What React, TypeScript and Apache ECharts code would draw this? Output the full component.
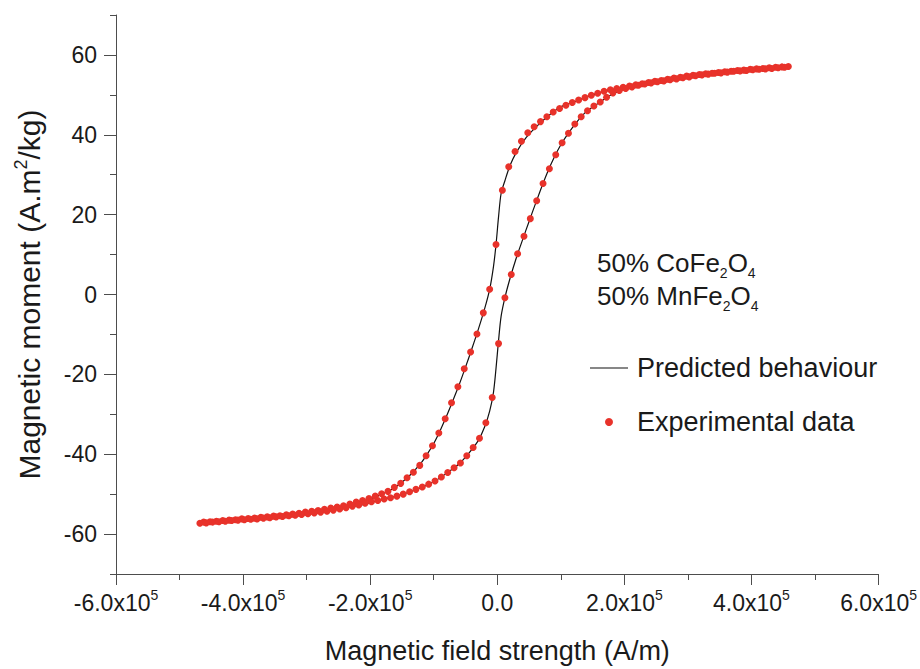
import React, { useEffect, useRef } from "react";
import * as echarts from "echarts";

// Experimental data, descending branch (field in kA/m, moment in A.m2/kg)
const descField = [458, 448, 438, 428, 418, 408, 398, 388, 378, 368, 358, 348, 338, 328, 318, 308, 298, 288, 278, 268, 258, 248, 238, 228, 218, 208, 198, 188, 178, 168, 158, 148, 138, 128, 118, 108, 98, 88, 78, 68, 58, 48, 38, 28, 18, 8, -2, -12, -22, -32, -42, -52, -62, -72, -82, -92, -102, -112, -122, -132, -142, -152, -162, -172, -182, -192, -202, -212, -222, -232, -242, -252, -262, -272, -282, -292, -302, -312, -322, -332, -342, -352, -362, -372, -382, -392, -402, -412, -422, -432, -442, -452, -462];
const descMoment = [57.1, 57.0, 56.9, 56.8, 56.6, 56.5, 56.4, 56.2, 56.1, 55.9, 55.8, 55.6, 55.4, 55.3, 55.1, 54.9, 54.7, 54.4, 54.2, 53.9, 53.6, 53.4, 53.1, 52.8, 52.5, 52.2, 51.9, 51.6, 51.3, 50.9, 50.4, 49.9, 49.3, 48.7, 48.1, 47.4, 46.6, 45.7, 44.5, 43.3, 42.0, 40.5, 38.4, 35.8, 32.0, 26.1, 12.5, 1.3, -4.6, -9.9, -14.4, -18.6, -23.1, -27.1, -31.1, -34.7, -37.9, -40.4, -42.8, -44.5, -45.9, -47.3, -48.3, -49.3, -49.9, -50.5, -51.1, -51.6, -52.0, -52.5, -52.9, -53.2, -53.5, -53.8, -54.1, -54.3, -54.5, -54.8, -55.0, -55.2, -55.4, -55.5, -55.7, -55.8, -56.0, -56.1, -56.2, -56.4, -56.5, -56.6, -56.8, -56.9, -57.0];

// Experimental data, ascending branch
const ascField = [-468, -458, -448, -438, -428, -418, -408, -398, -388, -378, -368, -358, -348, -338, -328, -318, -308, -298, -288, -278, -268, -258, -248, -238, -228, -218, -208, -198, -188, -178, -168, -158, -148, -138, -128, -118, -108, -98, -88, -78, -68, -58, -48, -38, -28, -18, -8, 2, 12, 22, 32, 42, 52, 62, 72, 82, 92, 102, 112, 122, 132, 142, 152, 162, 172, 182, 192, 202, 212, 222, 232, 242, 252, 262, 272, 282, 292, 302, 312, 322, 332, 342, 352, 362, 372, 382, 392, 402, 412, 422, 432, 442, 452];
const ascMoment = [-57.3, -57.2, -57.0, -56.9, -56.8, -56.6, -56.5, -56.4, -56.3, -56.2, -56.0, -55.9, -55.7, -55.6, -55.4, -55.3, -55.1, -54.9, -54.7, -54.5, -54.3, -54.0, -53.7, -53.4, -53.0, -52.7, -52.3, -51.9, -51.6, -51.2, -50.9, -50.5, -50.0, -49.4, -48.8, -48.2, -47.5, -46.7, -45.7, -44.6, -43.4, -42.2, -40.4, -38.3, -36.0, -32.1, -25.8, -12.3, -0.8, 5.0, 10.2, 14.6, 19.0, 23.5, 27.8, 31.5, 35.0, 38.0, 40.4, 42.7, 44.5, 46.0, 47.2, 48.2, 49.4, 50.5, 51.1, 51.6, 52.0, 52.4, 52.7, 53.0, 53.3, 53.5, 53.8, 54.0, 54.3, 54.5, 54.8, 55.0, 55.2, 55.4, 55.5, 55.7, 55.9, 56.0, 56.1, 56.3, 56.4, 56.5, 56.6, 56.8, 56.9];

// Predicted behaviour (model line)
const predDescField = [460, 400, 340, 280, 220, 180, 150, 120, 100, 80, 60, 45, 30, 20, 12, 6, 2, -2, -6, -12, -20, -30, -40, -50, -60, -70, -80, -90, -100, -110, -120, -135, -150, -165, -180, -200, -240, -280, -340, -400, -466];
const predDescMoment = [57.1, 56.4, 55.4, 54.3, 52.6, 51.3, 50.0, 48.2, 47.0, 44.7, 41.8, 39.2, 35.6, 32.3, 28.5, 25.3, 19.5, 12.5, 7.0, 1.3, -3.6, -8.8, -13.6, -18.2, -22.6, -26.6, -30.5, -34.1, -37.3, -39.9, -42.2, -44.9, -47.0, -48.7, -49.9, -51.2, -52.9, -54.1, -55.4, -56.4, -57.2];
const predAscField = [-466, -400, -340, -280, -220, -180, -150, -120, -100, -80, -60, -45, -30, -20, -12, -6, -2, 2, 6, 12, 20, 30, 40, 50, 60, 70, 80, 90, 100, 110, 125, 140, 160, 180, 200, 240, 280, 340, 400, 458];
const predAscMoment = [-57.2, -56.5, -55.6, -54.5, -52.9, -51.3, -50.1, -48.4, -46.9, -44.8, -42.4, -39.8, -36.6, -33.2, -29.2, -24.5, -18.5, -11.5, -5.5, -0.8, 4.0, 9.2, 13.8, 18.3, 22.7, 27.0, 31.0, 34.5, 37.5, 40.0, 43.2, 45.8, 48.0, 50.1, 51.4, 53.0, 54.1, 55.5, 56.4, 57.1];

const yMajorTicks = [-60, -40, -20, 0, 20, 40, 60];
const yMinorTicks = [-70, -50, -30, -10, 10, 30, 50, 70];

const FONT = "'Liberation Sans', Arial, Helvetica, sans-serif";
const TEXT = "#1a1a1a";
const AXIS = "#4d4d4d";
const RED = "#e8322a";

export default function App() {
  const ref = useRef<HTMLDivElement>(null);
  useEffect(() => {
    if (!ref.current) return;
    const chart = echarts.init(ref.current, undefined, { renderer: "svg" });
    const expData: number[][] = [];
    descField.forEach((h, i) => expData.push([h * 1000, descMoment[i]]));
    ascField.forEach((h, i) => expData.push([h * 1000, ascMoment[i]]));
    const predData: number[][] = [];
    predDescField.forEach((h, i) => predData.push([h * 1000, predDescMoment[i]]));
    predAscField.forEach((h, i) => predData.push([h * 1000, predAscMoment[i]]));

    chart.setOption({
      animation: false,
      backgroundColor: "#ffffff",
      textStyle: { fontFamily: FONT },
      grid: { left: 116, right: 41, top: 15, bottom: 95, containLabel: false },
      legend: {
        orient: "vertical",
        left: 590,
        top: 354,
        padding: 0,
        itemWidth: 38,
        itemHeight: 8,
        itemGap: 26,
        data: [
          { name: "Predicted behaviour", icon: "path://M0,0H38V1.2H0Z", itemStyle: { color: "#111111" } },
          { name: "Experimental data", icon: "circle" },
        ],
        textStyle: { fontSize: 27, color: TEXT, fontFamily: FONT, lineHeight: 28, padding: [0, 0, 0, 4] },
      },
      xAxis: {
        type: "value",
        min: -600000,
        max: 600000,
        interval: 200000,
        name: "Magnetic field strength (A/m)",
        nameLocation: "middle",
        nameGap: 63,
        nameTextStyle: { fontSize: 27, color: TEXT, fontFamily: FONT },
        axisLine: { show: true, onZero: false, lineStyle: { color: AXIS, width: 1 } },
        axisTick: { show: true, length: 11, lineStyle: { color: AXIS } },
        minorTick: { show: true, splitNumber: 2, length: 6, lineStyle: { color: AXIS } },
        splitLine: { show: false },
        axisLabel: {
          margin: 14,
          formatter: (v: number) => (v === 0 ? "{b|0.0}" : "{b|" + (v / 1e5).toFixed(1) + "x10}{s|5}"),
          rich: {
            b: { fontSize: 23, color: TEXT, fontFamily: FONT, lineHeight: 30 },
            s: { fontSize: 14, color: TEXT, fontFamily: FONT, lineHeight: 14, verticalAlign: "top" },
          },
        },
      },
      yAxis: [
        {
          type: "value",
          min: -70,
          max: 70,
          interval: 10,
          name: "{n|Magnetic moment (A.m}{s|2}{n|/kg)}",
          nameLocation: "middle",
          nameGap: 70,
          nameTextStyle: {
            color: TEXT,
            rich: {
              n: { fontSize: 30, color: TEXT, fontFamily: FONT, lineHeight: 34 },
              s: { fontSize: 18, color: TEXT, fontFamily: FONT, lineHeight: 18, verticalAlign: "top" },
            },
          },
          axisLine: { show: true, onZero: false, lineStyle: { color: AXIS, width: 1 } },
          axisTick: { show: true, length: 12, customValues: yMajorTicks, lineStyle: { color: AXIS, width: 1 } },
          splitLine: { show: false },
          axisLabel: {
            margin: 19,
            customValues: yMajorTicks,
            fontSize: 23,
            color: TEXT,
            fontFamily: FONT,
          },
        },
        {
          type: "value",
          min: -70,
          max: 70,
          interval: 10,
          position: "left",
          axisLine: { show: false, onZero: false },
          axisTick: { show: true, length: 6, customValues: yMinorTicks, lineStyle: { color: AXIS } },
          axisLabel: { show: false },
          splitLine: { show: false },
        },
      ],
      graphic: [
        {
          type: "text",
          left: 597,
          top: 250,
          style: {
            text: "{a|50% CoFe}{b|2}{a|O}{b|4}\n{a|50% MnFe}{b|2}{a|O}{b|4}",
            fill: TEXT,
            rich: {
              a: { fontSize: 26, fontFamily: FONT, fill: TEXT, lineHeight: 33 },
              b: { fontSize: 14, fontFamily: FONT, fill: TEXT, lineHeight: 25, verticalAlign: "bottom" },
            },
          },
        },
      ],
      series: [
        {
          name: "Predicted behaviour",
          type: "line",
          data: predData,
          symbol: "none",
          showSymbol: false,
          smooth: 0.3,
          lineStyle: { color: "#111111", width: 1.2 },
          itemStyle: { color: "#111111" },
          z: 2,
        },
        {
          name: "Experimental data",
          type: "scatter",
          data: expData,
          symbol: "circle",
          symbolSize: 7,
          itemStyle: { color: RED, opacity: 1 },
          z: 3,
        },
      ],
    });
    return () => chart.dispose();
  }, []);
  return (
    <div
      ref={ref}
      style={{ position: "fixed", left: 0, top: 0, width: 920, height: 669, background: "#fff" }}
    />
  );
}
